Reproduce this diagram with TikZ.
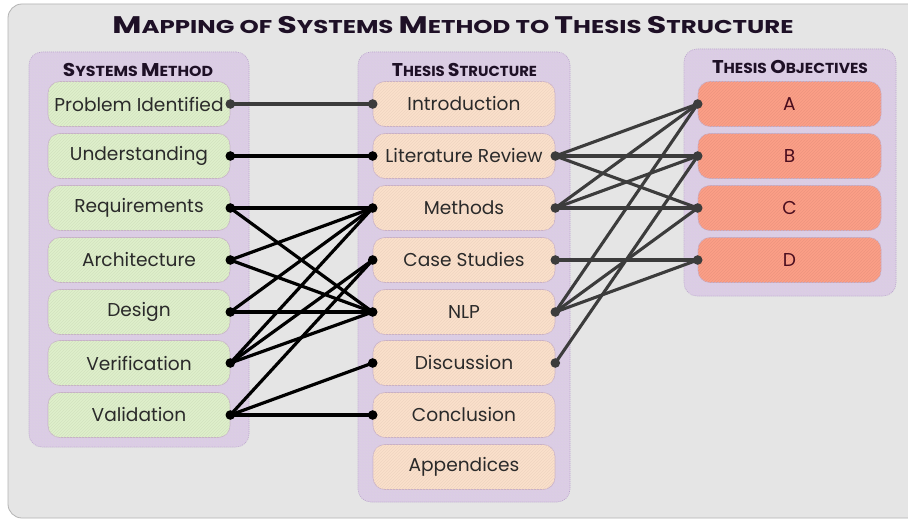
\documentclass[tikz,border=0pt]{standalone}
\usepackage{fontspec}
\setmainfont{Poppins}
\usetikzlibrary{patterns}

\definecolor{canvas}{HTML}{E5E5E5}
\definecolor{canvasedge}{HTML}{B4B4B4}
\definecolor{panelfill}{HTML}{DCCCE6}
\definecolor{paneledge}{HTML}{B9A3CC}
\definecolor{boxedge}{HTML}{C7AFC9}
\definecolor{greenbox}{HTML}{DFF0CB}
\definecolor{peachbox}{HTML}{FBE0CB}
\definecolor{salmonbox}{HTML}{FC9F87}
\definecolor{headink}{HTML}{1E1026}
\definecolor{bodyink}{HTML}{2A2A2A}
\definecolor{linkgray}{HTML}{3C3C3C}

% fake small caps: large initial, smaller rest
\newcommand\hiL[1]{{\fontsize{\bigsz}{\bigsz}\selectfont #1}}
\newcommand\loL[1]{{\fontsize{\smsz}{\smsz}\selectfont #1}}
% heading text stretched to a given width, height kept
\newcommand\capline[4]{\resizebox{#1}{\height}{\def\bigsz{#2}\def\smsz{#3}\fontsize{#3}{#3}\selectfont #4}}

\begin{document}
\begin{tikzpicture}[x=1pt,y=-1pt,
  hatch/.style={postaction={pattern=north east lines, pattern color=#1}},
  panel/.style={draw=paneledge, dashed, dash pattern=on 1pt off 1pt, line width=0.6pt,
    fill=panelfill, hatch=panelfill!88!black!60!white, rounded corners=13pt, inner sep=0pt},
  item/.style={draw=boxedge, line width=0.6pt, rounded corners=12pt,
    minimum width=182pt, minimum height=45pt, inner sep=0pt,
    font=\fontsize{18.6}{18.6}\selectfont, text=bodyink},
  sysbox/.style={item, fill=greenbox, hatch=greenbox!94!black},
  thesisbox/.style={item, fill=peachbox, hatch=peachbox!95!black},
  objbox/.style={item, fill=salmonbox, hatch=salmonbox!94!black, minimum width=183pt, text=headink!80!red},
  heading/.style={text=headink, font=\bfseries, inner sep=0pt},
  leftlink/.style={line width=3.2pt, black},
  rightlink/.style={line width=3.1pt, linkgray},
]
\useasboundingbox (0,0) rectangle (908,519);
\fill[white] (0,0) rectangle (908,519);
\draw[fill=canvas, draw=canvasedge, line width=0.8pt, rounded corners=14pt] (8,4) rectangle (930,518);

% title
\node[heading] (title) at (453,25) {\capline{681pt}{24}{18.5}{%
  \hiL{M}\loL{APPING OF} \hiL{S}\loL{YSTEMS} \hiL{M}\loL{ETHOD TO} \hiL{T}\loL{HESIS} \hiL{S}\loL{TRUCTURE}}};

% column panels
\node[panel, minimum width=220pt, minimum height=395pt] (leftpanel) at (139,249.5) {};
\node[panel, minimum width=212pt, minimum height=450pt] (midpanel) at (464,277) {};
\node[panel, minimum width=212pt, minimum height=247pt] (rightpanel) at (790,172.5) {};

\node[heading] (lefthead) at (138,70) {\capline{150pt}{18.5}{14.5}{\hiL{S}\loL{YSTEMS} \hiL{M}\loL{ETHOD}}};
\node[heading] (midhead) at (464.5,70) {\capline{145pt}{18.5}{14.5}{\hiL{T}\loL{HESIS} \hiL{S}\loL{TRUCTURE}}};
\node[heading] (righthead) at (790,67) {\capline{156pt}{18.5}{14.5}{\hiL{T}\loL{HESIS} \hiL{O}\loL{BJECTIVES}}};

% systems method steps
\node[sysbox] (s1) at (139,104) {Problem Identified};
\node[sysbox] (s2) at (139,156) {Understanding};
\node[sysbox] (s3) at (139,208) {Requirements};
\node[sysbox] (s4) at (139,260) {Architecture};
\node[sysbox] (s5) at (139,312) {Design};
\node[sysbox] (s6) at (139,363) {Verification};
\node[sysbox] (s7) at (139,415) {Validation};

% thesis chapters
\node[thesisbox] (t1) at (464,104) {Introduction};
\node[thesisbox] (t2) at (464,156) {Literature Review};
\node[thesisbox] (t3) at (464,208) {Methods};
\node[thesisbox] (t4) at (464,260) {Case Studies};
\node[thesisbox] (t5) at (464,312) {NLP};
\node[thesisbox] (t6) at (464,363) {Discussion};
\node[thesisbox] (t7) at (464,415) {Conclusion};
\node[thesisbox] (t8) at (464,467) {Appendices};

% objectives
\node[objbox] (o1) at (789.5,104) {A};
\node[objbox] (o2) at (789.5,156) {B};
\node[objbox] (o3) at (789.5,208) {C};
\node[objbox] (o4) at (789.5,260) {D};

% links: systems method -> thesis chapters
\draw[leftlink, linkgray] (s1.east) -- (t1.west);
\foreach \a/\b in {s2/t2, s3/t3, s3/t5, s4/t3, s4/t5, s5/t3, s5/t5,
                   s6/t3, s6/t4, s6/t5, s7/t4, s7/t6, s7/t7}
  \draw[leftlink] (\a.east) -- (\b.west);

% links: thesis chapters -> objectives
\foreach \a/\b in {t2/o1, t2/o2, t2/o3, t3/o1, t3/o2, t3/o3, t4/o4,
                   t5/o1, t5/o3, t5/o4, t6/o2}
  \draw[rightlink] (\a.east) -- (\b.west);

% end dots
\fill[linkgray] (s1.east) circle (4.8pt) (t1.west) circle (4.8pt);
\foreach \n in {s2,s3,s4,s5,s6,s7}
  \fill[black] (\n.east) circle (4.8pt);
\foreach \n in {t2,t3,t4,t5,t6,t7}
  \fill[black] (\n.west) circle (4.8pt);
\foreach \n in {t2,t3,t4,t5,t6}
  \fill[linkgray] (\n.east) circle (4.8pt);
\foreach \n in {o1,o2,o3,o4}
  \fill[linkgray] (\n.west) circle (4.8pt);
\end{tikzpicture}
\end{document}
